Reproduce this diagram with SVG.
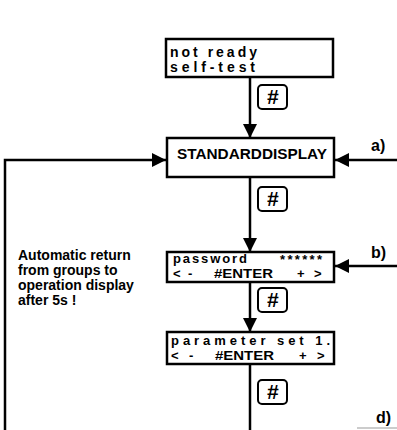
<svg xmlns="http://www.w3.org/2000/svg" width="397" height="430" viewBox="0 0 397 430">
<style>
.box{fill:#fff;stroke:#000;stroke-width:2.5}
.key{fill:#fff;stroke:#000;stroke-width:2}
.ln{fill:none;stroke:#000;stroke-width:2.5}
.lcd{font-family:"Liberation Sans",Arial,sans-serif;font-weight:bold;font-size:13px;fill:#000}
.hash{font-family:"Liberation Sans",Arial,sans-serif;font-weight:bold;font-style:italic;font-size:21px;text-anchor:middle;fill:#000}
.lbl{font-family:"Liberation Sans",Arial,sans-serif;font-weight:bold;font-size:16px;fill:#000}
.note{font-family:"Liberation Sans",Arial,sans-serif;font-weight:bold;font-size:14px;fill:#000}
</style>
<defs>
<marker id="ah" markerUnits="userSpaceOnUse" markerWidth="16" markerHeight="16" refX="14" refY="7" orient="auto">
<path d="M0,0 L14,7 L0,14 Z" fill="#000"/>
</marker>
</defs>
<g id="connectors">
<line class="ln" x1="250" y1="77" x2="250" y2="138" marker-end="url(#ah)"/>
<line class="ln" x1="250" y1="177" x2="250" y2="252" marker-end="url(#ah)"/>
<line class="ln" x1="250" y1="282" x2="250" y2="332" marker-end="url(#ah)"/>
<line class="ln" x1="250" y1="364" x2="250" y2="430"/>
<line class="ln" x1="397" y1="160" x2="335" y2="160" marker-end="url(#ah)"/>
<line class="ln" x1="397" y1="266" x2="335" y2="266" marker-end="url(#ah)"/>
<path class="ln" d="M5,430 V160 H166" marker-end="url(#ah)"/>
<line x1="357" y1="428" x2="397" y2="428" stroke="#999" stroke-width="1"/>
</g>
<g id="node-notready">
<rect class="box" x="166" y="39" width="167" height="38"/>
<text class="lcd" x="170" y="57" style="font-size:14px" textLength="87" lengthAdjust="spacing">not ready</text>
<text class="lcd" x="170" y="72" style="font-size:14px" textLength="85" lengthAdjust="spacing">self-test</text>
</g>
<g id="key1"><rect class="key" x="258" y="85" width="29" height="24" rx="4"/><text class="hash" x="272.5" y="104">#</text></g>
<g id="node-standard">
<rect class="box" x="167" y="138" width="167" height="39"/>
<text class="lcd" x="177" y="159" style="font-size:15px" textLength="150" lengthAdjust="spacingAndGlyphs">STANDARDDISPLAY</text>
</g>
<g id="key2"><rect class="key" x="258" y="187" width="29" height="24" rx="4"/><text class="hash" x="272.5" y="206">#</text></g>
<g id="node-password">
<rect class="box" x="167" y="252" width="167" height="30"/>
<text class="lcd" x="173" y="263" textLength="74" lengthAdjust="spacing">password</text>
<text class="lcd" x="280" y="264" textLength="42" lengthAdjust="spacing">******</text>
<text class="lcd" x="173" y="278">&lt;</text>
<text class="lcd" x="188" y="278">-</text>
<text class="lcd" x="214" y="278" textLength="59" lengthAdjust="spacingAndGlyphs">#ENTER</text>
<text class="lcd" x="297" y="278">+</text>
<text class="lcd" x="314" y="278">&gt;</text>
</g>
<g id="key3"><rect class="key" x="258" y="288" width="29" height="24" rx="4"/><text class="hash" x="272.5" y="307">#</text></g>
<g id="node-parameter">
<rect class="box" x="167" y="332" width="167" height="32"/>
<text class="lcd" x="171" y="345" textLength="159" lengthAdjust="spacing">parameter set 1.</text>
<text class="lcd" x="171" y="360">&lt;</text>
<text class="lcd" x="189" y="360">-</text>
<text class="lcd" x="215" y="360" textLength="59" lengthAdjust="spacingAndGlyphs">#ENTER</text>
<text class="lcd" x="299" y="360">+</text>
<text class="lcd" x="317" y="360">&gt;</text>
</g>
<g id="key4"><rect class="key" x="258" y="380" width="29" height="24" rx="4"/><text class="hash" x="272.5" y="399">#</text></g>
<g id="labels">
<text class="lbl" x="371" y="151">a)</text>
<text class="lbl" x="371" y="258">b)</text>
<text class="lbl" x="376" y="423">d)</text>
<text class="note" x="18" y="260">Automatic return</text>
<text class="note" x="18" y="275">from groups to</text>
<text class="note" x="18" y="290">operation display</text>
<text class="note" x="18" y="305">after 5s !</text>
</g>
</svg>
